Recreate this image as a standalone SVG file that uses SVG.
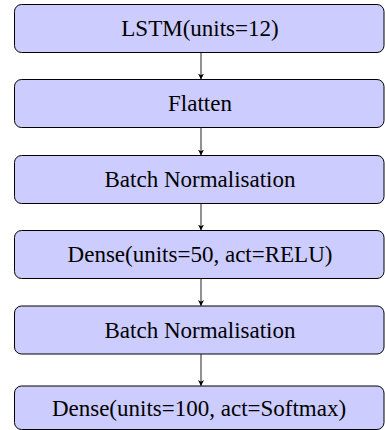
<svg xmlns="http://www.w3.org/2000/svg" width="385" height="430" viewBox="0 0 385 430">
<style>
.box{fill:#ccccff;stroke:#000;stroke-width:1}
.lbl{font-family:"Liberation Serif","Times New Roman",serif;font-size:23px;fill:#000;text-anchor:middle;dominant-baseline:central}
.edge{stroke:#222;stroke-width:1;fill:none;marker-end:url(#ah)}
</style>
<defs>
<marker id="ah" viewBox="0 0 10 10" refX="10" refY="5" markerWidth="6" markerHeight="7" markerUnits="userSpaceOnUse" orient="auto">
<path d="M0,0 L10,5 L0,10 L3,5 Z" fill="#000"/>
</marker>
</defs>
<g id="n1"><rect class="box" x="14.5" y="4.5" width="369.5" height="48" rx="7"/><text class="lbl" x="200" y="28.5">LSTM(units=12)</text></g>
<g id="n2"><rect class="box" x="14.5" y="79.5" width="369.5" height="48" rx="7"/><text class="lbl" x="200" y="103.5">Flatten</text></g>
<g id="n3"><rect class="box" x="14.5" y="155.5" width="369.5" height="48" rx="7"/><text class="lbl" x="200" y="179.5">Batch Normalisation</text></g>
<g id="n4"><rect class="box" x="14.5" y="230.5" width="369.5" height="48" rx="7"/><text class="lbl" x="200" y="254.5">Dense(units=50, act=RELU)</text></g>
<g id="n5"><rect class="box" x="14.5" y="306" width="369.5" height="48" rx="7"/><text class="lbl" x="200" y="330">Batch Normalisation</text></g>
<g id="n6"><rect class="box" x="14.5" y="386" width="369.5" height="43.5" rx="7"/><text class="lbl" x="199" y="408.5">Dense(units=100, act=Softmax)</text></g>
<g id="edges">
<line class="edge" x1="201" y1="52.5" x2="201" y2="79.5"/>
<line class="edge" x1="201" y1="127.5" x2="201" y2="155.5"/>
<line class="edge" x1="201" y1="203.5" x2="201" y2="230.5"/>
<line class="edge" x1="201" y1="278.5" x2="201" y2="306"/>
<line class="edge" x1="201" y1="354" x2="201" y2="386"/>
</g>
</svg>
